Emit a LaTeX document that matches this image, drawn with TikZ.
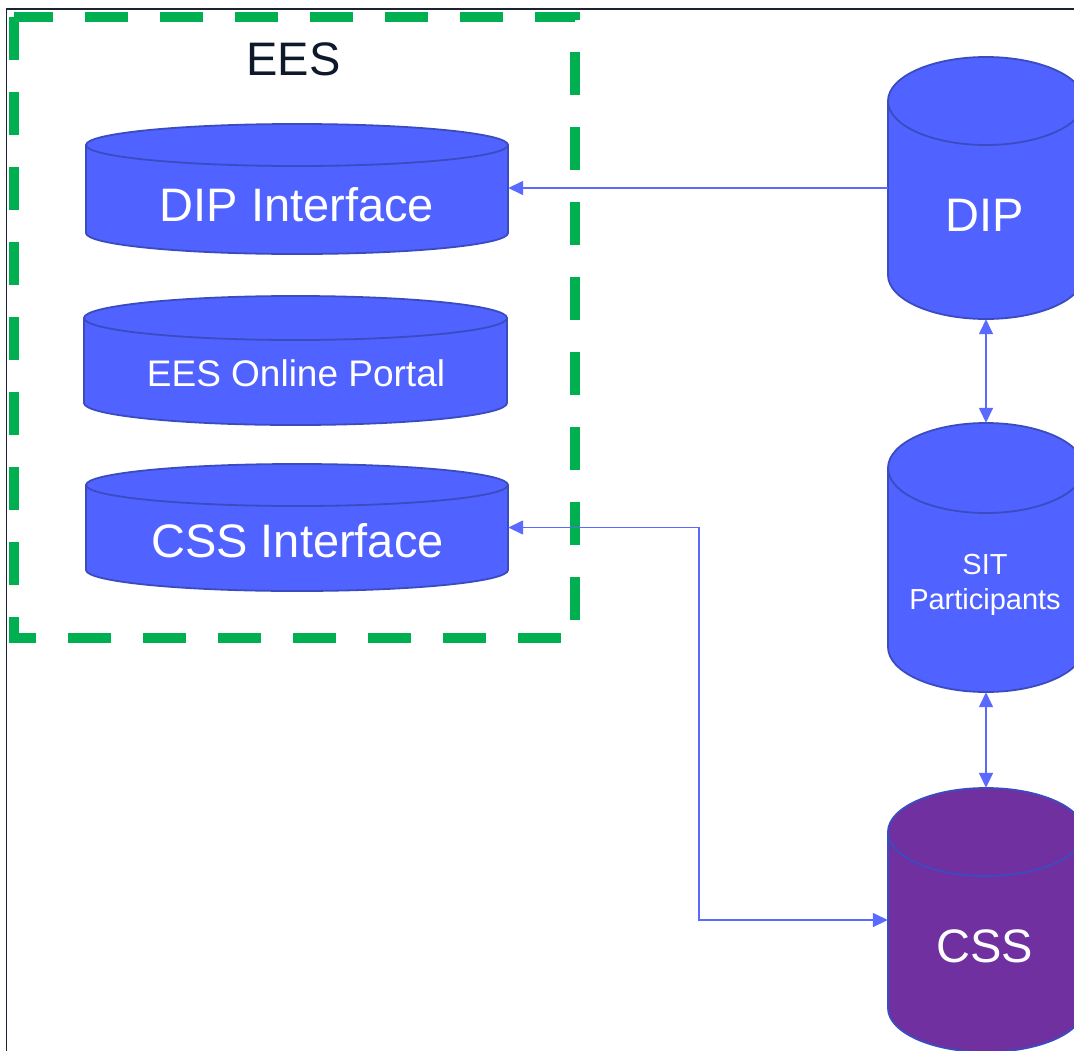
\documentclass[tikz,border=0pt]{standalone}
\usepackage{fontspec}
\setmainfont{Liberation Sans}
\usetikzlibrary{arrows.meta}
\definecolor{cylblue}{RGB}{80,98,255}
\definecolor{cylborder}{RGB}{59,76,192}
\definecolor{csspurple}{RGB}{112,48,160}
\definecolor{connblue}{RGB}{90,106,255}
\definecolor{eesgreen}{RGB}{0,176,80}
\definecolor{framecol}{RGB}{28,35,49}
\definecolor{titlecol}{RGB}{14,26,43}
\tikzset{
  cylline/.style={draw=cylborder, line width=1.8pt},
  frameline/.style={draw=framecol, line width=1.6pt},
  greenbox/.style={draw=eesgreen, line width=10pt, dash pattern=on 43pt off 32pt, line join=miter},
  conn/.style={draw=connblue, line width=1.5pt},
  tip/.style={arrows={-Triangle[length=15pt,width=14pt]}},
  dtip/.style={arrows={Triangle[length=15pt,width=14pt]-Triangle[length=15pt,width=14pt]}},
  txt/.style={text=white, inner sep=0pt, anchor=base},
  bigtxt/.style={txt, font=\fontsize{47}{56}\selectfont},
}
\newcommand{\dbcyl}[7]{%
  \pgfmathsetmacro{\cylrx}{(#4-#2)/2}%
  \pgfmathsetmacro{\cylcx}{(#2+#4)/2}%
  \pgfmathsetmacro{\cylcy}{-(#3+#5)/2}%
  \filldraw[cylline, fill=#7] (#2,-#3-#6) -- (#2,-#5+#6)
    arc[start angle=180, end angle=360, x radius=\cylrx, y radius=#6]
    -- (#4,-#3-#6)
    arc[start angle=0, end angle=180, x radius=\cylrx, y radius=#6] -- cycle;
  \draw[cylline] (#2,-#3-#6) arc[start angle=180, end angle=360, x radius=\cylrx, y radius=#6];
  \node[inner sep=0pt, minimum width={(#4-#2)*1pt}, minimum height={(#5-#3)*1pt}] (#1) at (\cylcx,\cylcy) {};
}
\begin{document}
\begin{tikzpicture}[x=1pt,y=1pt]
\useasboundingbox (0,0) rectangle (1074,-1050);
\clip (0,0) rectangle (1074,-1050);
\fill[white] (0,0) rectangle (1074,-1050);
\draw[frameline] (6.5,-1060) -- (6.5,-9) -- (1080,-9);
\draw[greenbox] (14,-17) rectangle (575,-638);
\node[inner sep=0pt, anchor=base, text=titlecol, font=\fontsize{47}{56}\selectfont] (ees) at (293.5,-75) {EES};
% cylinders
\dbcyl{dipi}{86}{124}{508}{254}{21}{cylblue}
\dbcyl{portal}{84}{296}{507}{425}{22}{cylblue}
\dbcyl{cssi}{86}{464}{508}{591}{21}{cylblue}
\dbcyl{dip}{888}{57}{1084}{319}{44}{cylblue}
\dbcyl{sit}{888}{423}{1084}{692}{45}{cylblue}
\dbcyl{css}{888}{788}{1084}{1052}{44}{csspurple}
% texts
\node[bigtxt] (dipi-t) at (297,-221) {DIP Interface};
\node[txt, font=\fontsize{37}{44}\selectfont] (portal-t) at (296,-386) {EES Online Portal};
\node[bigtxt] (cssi-t) at (297.5,-557) {CSS Interface};
\node[bigtxt] (dip-t) at (985,-231) {DIP};
\node[txt, font=\fontsize{29}{34}\selectfont] (sit-t1) at (985,-574) {SIT};
\node[txt, font=\fontsize{29}{34}\selectfont] (sit-t2) at (985,-609) {Participants};
\node[bigtxt] (css-t) at (985,-962) {CSS};
% connectors
\draw[conn, tip] (dip.west) -- (dip.west -| dipi.east);
\draw[conn, dtip] (cssi.east) -- ++(191,0) |- (css.west);
\draw[conn, dtip] (dip.south) -- (sit.north);
\draw[conn, dtip] (sit.south) -- (css.north);
\end{tikzpicture}
\end{document}
